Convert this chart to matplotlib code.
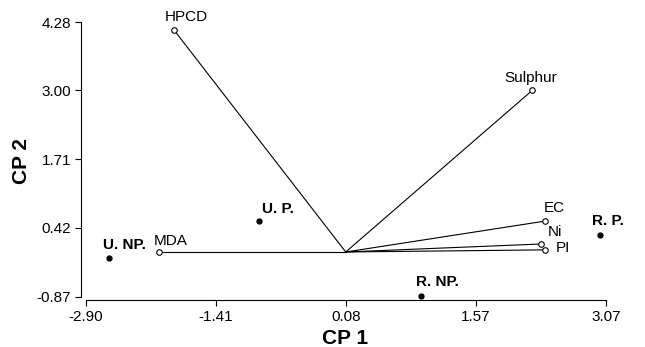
import matplotlib
matplotlib.use("Agg")
import matplotlib.pyplot as plt

plt.rcParams['font.family'] = ['Liberation Sans', 'DejaVu Sans']

# loading vectors (start at the common origin)
origin = (0.08, -0.03)
var_names = ["HPCD", "Sulphur", "EC", "Ni", "PI", "MDA"]
var_x = [-1.89, 2.22, 2.37, 2.32, 2.37, -2.06]
var_y = [4.13, 3.00, 0.55, 0.12, 0.01, -0.03]

# sample scores
site_names = ["U. NP.", "U. P.", "R. NP.", "R. P."]
site_x = [-2.64, -0.92, 0.94, 3.00]
site_y = [-0.14, 0.55, -0.86, 0.29]

xticks = [-2.90, -1.41, 0.08, 1.57, 3.07]
yticks = [-0.87, 0.42, 1.71, 3.00, 4.28]

# label offsets in points (dx, dy, ha)
var_off = {"HPCD": (-6.5, 9.4, "left"), "Sulphur": (-1.4, 8.6, "center"),
           "EC": (-1.4, 9.4, "left"), "Ni": (5, 8.6, "left"),
           "PI": (7.2, 1.4, "left"), "MDA": (-3.6, 7.9, "left")}
site_off = {"U. NP.": (-4.3, 9.4, "left"), "U. P.": (2.2, 8.6, "left"),
            "R. NP.": (-3.6, 10, "left"), "R. P.": (-5.8, 10, "left")}

fig = plt.figure(figsize=(6.45, 3.47), dpi=100)
ax = fig.add_axes([81 / 645, 1 - 300 / 347, 528 / 645, 279 / 347])

for name, x, y in zip(var_names, var_x, var_y):
    ax.plot([origin[0], x], [origin[1], y], color="black", lw=0.8, zorder=1)
    ax.plot(x, y, "o", ms=4, mfc="white", mec="black", mew=0.8, zorder=2)
    dx, dy, ha = var_off[name]
    ax.annotate(name, (x, y), xytext=(dx, dy), textcoords="offset points",
                ha=ha, va="center", fontsize=11)

ax.plot(site_x, site_y, "o", ms=3.5, color="black", ls="none", zorder=2)
for name, x, y in zip(site_names, site_x, site_y):
    dx, dy, ha = site_off[name]
    ax.annotate(name, (x, y), xytext=(dx, dy), textcoords="offset points",
                ha=ha, va="center", fontsize=11, fontweight="bold")

ax.set_xlim(-2.957, 3.10)
ax.set_ylim(-0.93, 4.30)
ax.set_xticks(xticks)
ax.set_yticks(yticks)
ax.set_xticklabels([f"{v:.2f}" for v in xticks])
ax.set_yticklabels([f"{v:.2f}" for v in yticks])
ax.tick_params(labelsize=11, length=4, width=0.8, direction="out", pad=3)
for s in ["top", "right"]:
    ax.spines[s].set_visible(False)
ax.spines["bottom"].set_bounds(xticks[0], xticks[-1])
ax.spines["left"].set_bounds(yticks[0], yticks[-1])
for s in ["bottom", "left"]:
    ax.spines[s].set_linewidth(0.8)

ax.set_xlabel("CP 1", fontsize=15, fontweight="bold", labelpad=4)
ax.set_ylabel("CP 2", fontsize=15, fontweight="bold", labelpad=4)

fig.savefig("out.png", dpi=100)
